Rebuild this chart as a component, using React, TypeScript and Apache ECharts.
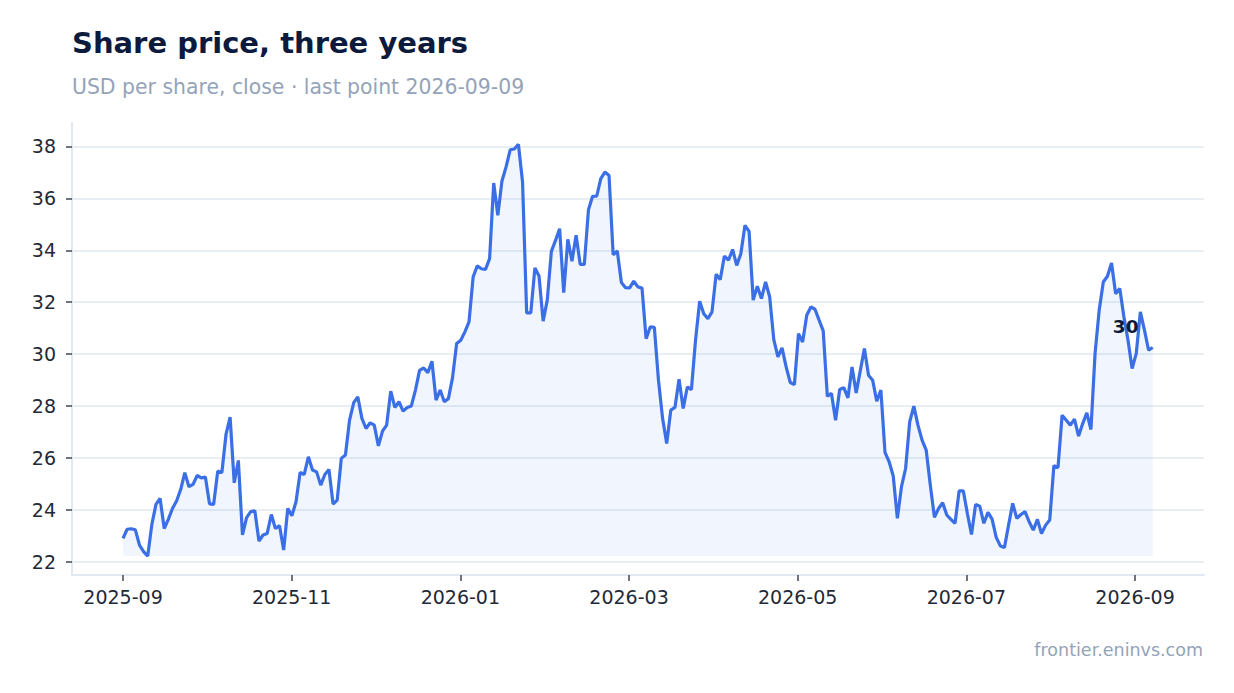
import { useEffect, useRef } from 'react';
import * as echarts from 'echarts';

const TITLE = 'Share price, three years';
const SUBTITLE = 'USD per share, close · last point 2026-09-09';
const WATERMARK = 'frontier.eninvs.com';

// month labels; the x axis counts months from the first one
const months = [
  '2025-09', '2025-10', '2025-11', '2025-12', '2026-01', '2026-02', '2026-03',
  '2026-04', '2026-05', '2026-06', '2026-07', '2026-08', '2026-09',
];
// position of the last point (2026-09-09) in months after 2025-09; points are evenly spaced
const LAST_X = 12.21;

// closing prices, USD
const prices = [
  22.91, 23.26, 23.28, 23.24, 22.65, 22.4, 22.23, 23.45, 24.22, 24.45, 23.29, 23.64, 24.06, 24.35, 24.79, 25.44,
  24.9, 24.99, 25.33, 25.24, 25.27, 24.24, 24.22, 25.5, 25.44, 26.91, 27.58, 25.05, 25.91, 23.04, 23.71, 23.94,
  23.97, 22.81, 23.04, 23.1, 23.83, 23.29, 23.4, 22.46, 24.06, 23.78, 24.32, 25.45, 25.37, 26.05, 25.54, 25.47,
  24.96, 25.37, 25.56, 24.23, 24.38, 25.99, 26.12, 27.46, 28.13, 28.36, 27.53, 27.14, 27.36, 27.27, 26.47, 27.04,
  27.27, 28.58, 27.95, 28.17, 27.81, 27.95, 28.01, 28.62, 29.38, 29.47, 29.29, 29.73, 28.23, 28.62, 28.17, 28.29,
  29.1, 30.41, 30.54, 30.86, 31.24, 32.97, 33.4, 33.29, 33.26, 33.68, 36.59, 35.35, 36.67, 37.21, 37.87, 37.9,
  38.08, 36.63, 31.59, 31.59, 33.32, 33.01, 31.27, 32.08, 33.96, 34.38, 34.83, 32.37, 34.42, 33.58, 34.58, 33.46,
  33.46, 35.56, 36.08, 36.08, 36.76, 37.01, 36.88,
  33.83, 33.97, 32.76, 32.56, 32.55, 32.81, 32.59, 32.55, 30.6, 31.05, 31.03, 29.0, 27.53, 26.56, 27.85, 27.95,
  29.04, 27.91, 28.74, 28.64, 30.54, 32.04, 31.56, 31.37, 31.63, 33.08, 32.87, 33.78, 33.62, 34.03, 33.42, 33.87,
  34.96, 34.73, 32.08, 32.62, 32.14, 32.78, 32.21, 30.56, 29.9, 30.24, 29.51, 28.91, 28.83, 30.79, 30.47, 31.5,
  31.82, 31.73, 31.31, 30.9, 28.38, 28.49, 27.46, 28.64, 28.71, 28.32, 29.51, 28.51, 29.36, 30.22, 29.19, 29.0,
  28.19,
  28.62, 26.22, 25.86, 25.31, 23.68, 24.9, 25.6, 27.4, 28.0, 27.27, 26.69, 26.31, 24.96, 23.72, 24.06, 24.28,
  23.81, 23.64, 23.49, 24.74, 24.74, 23.87, 23.06, 24.22, 24.15, 23.49, 23.91, 23.65, 22.95, 22.62, 22.56, 23.42,
  24.26, 23.68, 23.83, 23.94, 23.55, 23.23, 23.64, 23.1, 23.42, 23.62, 25.71, 25.63, 27.65, 27.46, 27.27, 27.5,
  26.85, 27.33, 27.74, 27.1, 30.03, 31.69, 32.78, 33.0, 33.51, 32.33, 32.53, 31.44, 30.54, 29.45, 30.03, 31.63,
  30.92, 30.15, 30.26,
];

// tick labels
const yTicks = [22, 24, 26, 28, 30, 32, 34, 36, 38];
const xTicks = [0, 2, 4, 6, 8, 10, 12];

export default function App() {
  const chartRef = useRef<HTMLDivElement>(null);

  useEffect(() => {
    if (!chartRef.current) return;
    const chart = echarts.init(chartRef.current, null, { renderer: 'svg' });

    const step = LAST_X / (prices.length - 1);
    const points = prices.map((p, i) => [i * step, p]);
    const last = prices[prices.length - 1];
    const low = Math.min(...prices);

    const option: echarts.EChartsOption = {
      animation: false,
      backgroundColor: '#ffffff',
      textStyle: { fontFamily: 'DejaVu Sans' },
      title: [
        {
          text: TITLE,
          left: 72,
          top: 28,
          padding: 0,
          textStyle: { fontSize: 29, fontWeight: 'bold', color: '#0b1a3d', fontFamily: 'DejaVu Sans' },
        },
        {
          text: SUBTITLE,
          left: 72,
          top: 77,
          padding: 0,
          textStyle: { fontSize: 20.4, fontWeight: 'normal', color: '#94a3b8', fontFamily: 'DejaVu Sans' },
        },
      ],
      graphic: [
        {
          type: 'text',
          right: 31,
          top: 641,
          style: { text: WATERMARK, fill: '#94a3b8', font: '17.5px "DejaVu Sans"' },
        },
      ],
      grid: { left: 72, right: 30, top: 123, bottom: 118 },
      xAxis: {
        type: 'value',
        min: -0.605,
        max: 12.818,
        axisLine: { show: true, onZero: false, lineStyle: { color: '#e2e8f0', width: 2 } },
        axisTick: { show: true, length: 6, lineStyle: { color: '#3f4654', width: 1.5 }, customValues: xTicks },
        axisLabel: {
          customValues: xTicks,
          margin: 12,
          fontSize: 19,
          color: '#1f2937',
          formatter: (v: number) => months[Math.round(v)] ?? '',
        },
        splitLine: { show: false },
      },
      yAxis: {
        type: 'value',
        min: 21.5,
        max: 38.9,
        axisLine: { show: true, onZero: false, lineStyle: { color: '#e2e8f0', width: 2 } },
        axisTick: { show: true, length: 6, lineStyle: { color: '#3f4654', width: 1.5 }, customValues: yTicks },
        axisLabel: { customValues: yTicks, margin: 16, fontSize: 19, color: '#1f2937' },
        splitLine: { show: true, lineStyle: { color: '#e2e8f0', width: 1.5 } },
      },
      series: [
        {
          type: 'line',
          data: points,
          showSymbol: false,
          symbol: 'none',
          lineStyle: { color: '#3b6fe6', width: 3.2 },
          itemStyle: { color: '#3b6fe6' },
          areaStyle: { color: 'rgba(59, 111, 230, 0.1)', origin: low },
          endLabel: {
            show: true,
            formatter: () => String(Math.round(last)),
            align: 'center',
            offset: [-35, -21],
            fontSize: 18.5,
            fontWeight: 'bold',
            color: '#0b1a3d',
          },
        },
      ],
    };

    chart.setOption(option);
    return () => chart.dispose();
  }, []);

  return <div ref={chartRef} style={{ position: 'absolute', left: 0, top: 0, width: 1234, height: 693 }} />;
}
